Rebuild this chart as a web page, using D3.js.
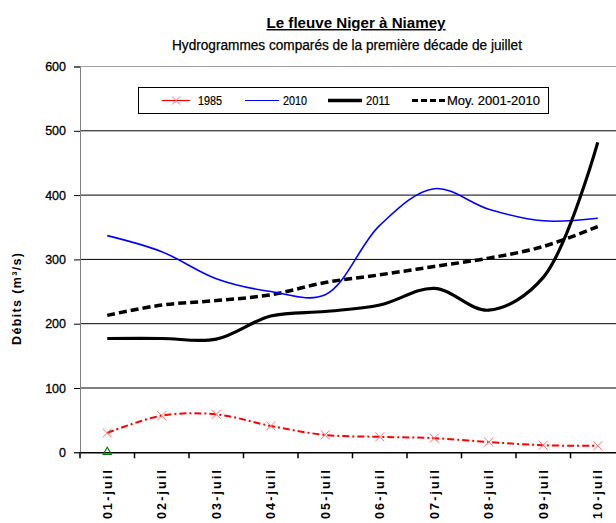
<!DOCTYPE html>
<html><head><meta charset="utf-8">
<script src="https://cdn.jsdelivr.net/npm/d3@7"></script>
<style>body{margin:0;background:#fff}svg{display:block;font-family:"Liberation Sans",Arial,sans-serif}</style>
</head><body>
<svg id="c" width="616" height="523"></svg>
<script>
const categories = ["01-juil","02-juil","03-juil","04-juil","05-juil","06-juil","07-juil","08-juil","09-juil","10-juil"];
const s1985 = [30, 57, 59, 41, 27, 24, 22, 16, 11, 10];
const s2010 = [337, 312, 270, 250, 245, 353, 410, 378, 360, 364];
const s2011 = [177, 177, 176, 212, 219, 229, 255, 221, 272, 482];
const sMoy = [213, 229, 236, 245, 264, 276, 289, 302, 320, 351];
const sTri = [0];
const yTicks = [0, 100, 200, 300, 400, 500, 600];
const legendLabels = ["1985", "2010", "2011", "Moy. 2001-2010"];

const svg = d3.select("#c");
const L = 80, R = 625, T = 66.5, B = 452.3;
const x = d3.scaleBand().domain(categories).range([L, R]);
const y = d3.scaleLinear().domain([0, 600]).range([B, T]);
const cx = d => x(d) + x.bandwidth() / 2;

// plot border (light gray)
svg.append("line").attr("x1", L).attr("x2", 616).attr("y1", T).attr("y2", T).attr("stroke", "#a0a0a0").attr("stroke-width", 1);
// gridlines
svg.append("g").selectAll("line").data(yTicks.filter(v => v > 0 && v < 600)).join("line")
  .attr("x1", L).attr("x2", 616).attr("y1", d => y(d)).attr("y2", d => y(d))
  .attr("stroke", "#000").attr("stroke-width", 1);

// y axis
const yAxis = svg.append("g").attr("transform", `translate(${L},0)`)
  .call(d3.axisLeft(y).tickValues(yTicks).tickSize(6).tickPadding(8).tickFormat(d3.format("d")));
yAxis.select(".domain").attr("stroke", "#808080");
yAxis.selectAll(".tick line").attr("stroke", "#000");
yAxis.selectAll("text").attr("font-size", 12.5).attr("font-family", "Liberation Sans, Arial")
  .attr("fill", "#000").attr("stroke", "#000").attr("stroke-width", 0.3);

// x axis
const xAxis = svg.append("g").attr("transform", `translate(0,${B})`)
  .call(d3.axisBottom(x).tickSize(0).tickFormat(""));
xAxis.select(".domain").attr("stroke", "#000").attr("stroke-width", 1.5);
xAxis.selectAll(".tick").remove();
svg.append("g").selectAll("line").data(categories).join("line")
  .attr("x1", d => x(d)).attr("x2", d => x(d)).attr("y1", B).attr("y2", B + 6)
  .attr("stroke", "#000").attr("stroke-width", 1.5);
svg.append("g").selectAll("text").data(categories).join("text")
  .attr("transform", d => `translate(${cx(d)},470) rotate(-90)`)
  .attr("text-anchor", "end").attr("dy", "0.36em")
  .attr("font-size", 12.5).attr("font-weight", "bold")
  .attr("textLength", 49).attr("lengthAdjust", "spacing").text(d => d);

// series
const line = d3.line().x((d, i) => cx(categories[i])).y(d => y(d)).curve(d3.curveCatmullRom.alpha(0.5));

svg.append("path").attr("d", line(sMoy)).attr("fill", "none").attr("stroke", "#000")
  .attr("stroke-width", 3.5).attr("stroke-dasharray", "8,4");
svg.append("path").attr("d", line(s2010)).attr("fill", "none").attr("stroke", "#0000ff").attr("stroke-width", 1.6);
svg.append("path").attr("d", line(s2011)).attr("fill", "none").attr("stroke", "#000").attr("stroke-width", 3.2);
svg.append("path").attr("d", line(s1985)).attr("fill", "none").attr("stroke", "#ff0000")
  .attr("stroke-width", 2).attr("stroke-dasharray", "7,3,2,3");

svg.append("g").selectAll("path").data(s1985).join("path")
  .attr("d", (d, i) => { const px = cx(categories[i]), py = y(d), s = 4.5;
    return `M${px - s},${py - s}L${px + s},${py + s}M${px - s},${py + s}L${px + s},${py - s}`; })
  .attr("stroke", "#ff7070").attr("stroke-width", 1).attr("fill", "none");

svg.append("g").selectAll("path").data(sTri).join("path")
  .attr("d", (d, i) => { const px = cx(categories[i]), py = y(d);
    return `M${px},${py - 5}L${px + 4},${py + 2}L${px - 4},${py + 2}Z`; })
  .attr("stroke", "#008000").attr("stroke-width", 1.2).attr("fill", "none");

// y label
svg.append("text").attr("transform", "translate(21,299) rotate(-90)")
  .attr("text-anchor", "middle").attr("font-size", 12.5).attr("font-weight", "bold")
  .attr("textLength", 92).attr("lengthAdjust", "spacing").text("Débits (m³/s)");

// titles
svg.append("text").attr("x", 356).attr("y", 28).attr("text-anchor", "middle")
  .attr("font-size", 14.5).attr("font-weight", "bold").attr("text-decoration", "underline")
  .attr("textLength", 179).attr("lengthAdjust", "spacingAndGlyphs")
  .text("Le fleuve Niger à Niamey");
svg.append("text").attr("x", 347).attr("y", 50).attr("text-anchor", "middle")
  .attr("font-size", 14).attr("stroke", "#000").attr("stroke-width", 0.25)
  .attr("textLength", 350).attr("lengthAdjust", "spacingAndGlyphs")
  .text("Hydrogrammes comparés de la première décade de juillet");

// legend
const lg = svg.append("g");
lg.append("rect").attr("x", 138.5).attr("y", 87.5).attr("width", 410).attr("height", 26)
  .attr("fill", "#fff").attr("stroke", "#000").attr("stroke-width", 1);
const ly = 100.5;
const items = [
  {x1: 162, x2: 190, tx: 198, tl: 24, stroke: "#ff0000", w: 1.2, dash: null, marker: true},
  {x1: 245, x2: 279, tx: 283, tl: 24, stroke: "#0000ff", w: 1.2, dash: null},
  {x1: 328, x2: 362, tx: 366, tl: 24, stroke: "#000", w: 3.5, dash: null},
  {x1: 412, x2: 445, tx: 447, tl: 93, stroke: "#000", w: 3, dash: "6,3"}
];
items.forEach((it, i) => {
  lg.append("line").attr("x1", it.x1).attr("x2", it.x2).attr("y1", ly).attr("y2", ly)
    .attr("stroke", it.stroke).attr("stroke-width", it.w).attr("stroke-dasharray", it.dash);
  if (it.marker) {
    const m = (it.x1 + it.x2) / 2, s = 4;
    lg.append("path").attr("d", `M${m - s},${ly - s}L${m + s},${ly + s}M${m - s},${ly + s}L${m + s},${ly - s}`)
      .attr("stroke", "#ff7070").attr("stroke-width", 1);
  }
  lg.append("text").attr("x", it.tx).attr("y", ly + 4.5).attr("font-size", 12.5)
    .attr("stroke", "#000").attr("stroke-width", 0.2)
    .attr("textLength", it.tl).attr("lengthAdjust", "spacingAndGlyphs").text(legendLabels[i]);
});
</script>
</body></html>
